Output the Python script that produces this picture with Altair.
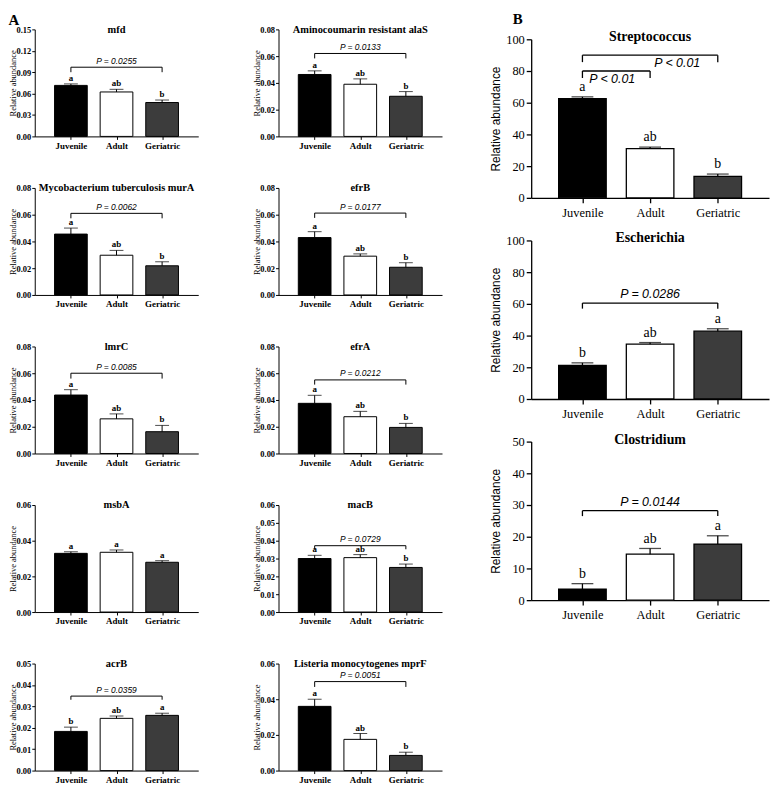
import altair as alt
import pandas as pd

groups = ["Juvenile", "Adult", "Geriatric"]
bar_colors = ["#000000", "#ffffff", "#3c3c3c"]

# ---------------- Panel A (ARGs) ----------------
a_titles = ["mfd", "Aminocoumarin resistant alaS", "Mycobacterium tuberculosis murA", "efrB",
            "lmrC", "efrA", "msbA", "macB", "acrB", "Listeria monocytogenes mprF"]
a_means = [
    [0.0715, 0.0623, 0.0475],
    [0.0463, 0.039, 0.030],
    [0.0455, 0.0297, 0.0218],
    [0.0429, 0.029, 0.0207],
    [0.0437, 0.0259, 0.0163],
    [0.0375, 0.0275, 0.0195],
    [0.0329, 0.0335, 0.0279],
    [0.030, 0.0305, 0.025],
    [0.0183, 0.0244, 0.0258],
    [0.036, 0.0175, 0.0085],
]
a_upper = [
    [0.0736, 0.066, 0.051],
    [0.049, 0.043, 0.0335],
    [0.050, 0.0333, 0.0248],
    [0.0473, 0.0307, 0.0241],
    [0.0477, 0.0296, 0.021],
    [0.0435, 0.0315, 0.0225],
    [0.0338, 0.0348, 0.0288],
    [0.0318, 0.0322, 0.0269],
    [0.0203, 0.0255, 0.0268],
    [0.040, 0.0208, 0.0103],
]
a_letters = [
    ["a", "ab", "b"], ["a", "ab", "b"], ["a", "ab", "b"], ["a", "ab", "b"], ["a", "ab", "b"],
    ["a", "ab", "b"], ["a", "a", "a"], ["a", "ab", "b"], ["b", "ab", "a"], ["a", "ab", "b"],
]
a_ymax = [0.15, 0.08, 0.08, 0.08, 0.08, 0.08, 0.06, 0.06, 0.05, 0.06]
a_ystep = [0.03, 0.02, 0.02, 0.02, 0.02, 0.02, 0.02, 0.01, 0.01, 0.02]
a_ptext = ["P = 0.0255", "P = 0.0133", "P = 0.0062", "P = 0.0177", "P = 0.0085",
           "P = 0.0212", "", "P = 0.0729", "P = 0.0359", "P = 0.0051"]
a_bracket = [0.097, 0.062, 0.061, 0.0612, 0.060, 0.055, None, 0.0372, 0.0348, 0.0499]
a_bracket_end = [0.090, 0.0583, 0.0573, 0.0576, 0.056, 0.0515, None, 0.0352, 0.0331, 0.0469]

# ---------------- Panel B (genera) ----------------
b_titles = ["Streptococcus", "Escherichia", "Clostridium"]
b_means = [[62.5, 31.0, 13.5], [21.2, 34.6, 42.8], [3.5, 14.5, 17.7]]
b_upper = [[63.7, 32.0, 15.0], [22.8, 35.6, 44.3], [5.2, 16.3, 20.3]]
b_letters = [["a", "ab", "b"], ["b", "ab", "a"], ["b", "ab", "a"]]
b_ymax = [100, 100, 50]
b_ystep = [20, 20, 10]
# brackets: (from idx, to idx, line y, end y, text, text idx, text below line?)
b_brackets = [
    [(0, 2, 90.0, 85.6, "P < 0.01", 1.40, True), (0, 1, 80.0, 75.6, "P < 0.01", 0.44, True)],
    [(0, 2, 60.5, 57.0, "P = 0.0286", 1.0, False)],
    [(0, 2, 28.2, 26.5, "P = 0.0144", 1.0, False)],
]

SERIF = "Liberation Serif"
SANS = "Liberation Sans"

STYLE_A = dict(w=165, h=108, bw=33, cap=14, tick=3, lab_fs=8.5, lab_w="bold", lab_pad=1,
               xlab_fs=9, xlab_w="bold", xlab_pad=2, ytitle_fs=8.5, ytitle_font=SERIF, ext=17,
               tpad=0, title_fs=10.5, title_off=-10, let_fs=9, let_w="bold", let_dy=1,
               p_fs=8.5, p_dy=1.5, fmt=".2f", sw=1)
STYLE_B = dict(w=240, h=160, bw=48, cap=22, tick=5, lab_fs=12.5, lab_w="normal", lab_pad=2,
               xlab_fs=12.5, xlab_w="normal", xlab_pad=4, ytitle_fs=12, ytitle_font=SANS,
               ext=26, tpad=3, title_fs=14, title_off=-11, let_fs=14, let_w="normal",
               let_dy=3, p_fs=12.5, p_dy=2, fmt="d", sw=1.3)

label_expr = "[" + ",".join("'" + g + "'" for g in groups) + "][datum.value]"


def make_panel(title, means, upper, letters, ymax, ystep, brackets, S):
    df = pd.DataFrame({"idx": [0, 1, 2], "group": groups, "mean": means,
                       "upper": upper, "letter": letters})
    xs = alt.Scale(domain=[-0.684, 2.684], nice=False, zero=False)
    ys = alt.Scale(domain=[0, ymax], nice=False, zero=True)
    nt = int(round(ymax / ystep))
    yvals = [round(i * ystep, 4) for i in range(nt + 1)]
    xaxis = alt.Axis(values=[0, 1, 2], labelExpr=label_expr, title=None, grid=False,
                     tickSize=S["tick"], labelFont=SERIF, labelFontSize=S["xlab_fs"],
                     labelFontWeight=S["xlab_w"], labelPadding=S["xlab_pad"], domainWidth=S["sw"],
                     tickWidth=S["sw"], labelColor="black", domainColor="black", tickColor="black")
    yaxis = alt.Axis(values=yvals, format=S["fmt"], title="Relative abundance", grid=False,
                     tickSize=S["tick"], labelFont=SERIF, labelFontSize=S["lab_fs"],
                     labelFontWeight=S["lab_w"], labelPadding=S["lab_pad"], minExtent=S["ext"],
                     maxExtent=S["ext"], titlePadding=S["tpad"], titleFont=S["ytitle_font"],
                     titleFontSize=S["ytitle_fs"], titleFontWeight="normal",
                     domainWidth=S["sw"], tickWidth=S["sw"], labelColor="black",
                     titleColor="black", domainColor="black", tickColor="black")

    def X(f):
        return alt.X(f, scale=xs, axis=xaxis, title=None)

    def Y(f):
        return alt.Y(f, scale=ys, axis=yaxis, title="Relative abundance")

    base = alt.Chart(df)
    bars = base.mark_bar(size=S["bw"], stroke="black", strokeWidth=S["sw"]).encode(
        x=X("idx:Q"), y=Y("mean:Q"),
        fill=alt.Fill("group:N", scale=alt.Scale(domain=groups, range=bar_colors), legend=None),
    )
    err = base.mark_rule(color="black", strokeWidth=S["sw"]).encode(
        x=X("idx:Q"), y=Y("mean:Q"), y2="upper:Q")
    cap = base.mark_tick(orient="horizontal", size=S["cap"], thickness=S["sw"], color="black").encode(
        x=X("idx:Q"), y=Y("upper:Q"))
    let = base.mark_text(baseline="bottom", dy=-S["let_dy"], font=SERIF, fontSize=S["let_fs"],
                         fontWeight=S["let_w"], color="black", fill="black").encode(
        x=X("idx:Q"), y=Y("upper:Q"), text="letter:N")
    layers = [bars, err, cap, let]
    if brackets:
        bdf = pd.DataFrame(brackets, columns=["x0", "x1", "y", "yend", "label", "tx", "below"])
        ends = pd.DataFrame({"x": list(bdf["x0"]) + list(bdf["x1"]),
                             "y": list(bdf["y"]) * 2, "yend": list(bdf["yend"]) * 2})
        layers.append(alt.Chart(bdf).mark_rule(color="black", strokeWidth=S["sw"]).encode(
            x=X("x0:Q"), x2="x1:Q", y=Y("y:Q")))
        layers.append(alt.Chart(ends).mark_rule(color="black", strokeWidth=S["sw"]).encode(
            x=X("x:Q"), y=Y("y:Q"), y2="yend:Q"))
        above = bdf[~bdf["below"]]
        below = bdf[bdf["below"]]
        if len(above):
            layers.append(alt.Chart(above).mark_text(baseline="bottom", dy=-S["p_dy"], font=SANS,
                                                     fontStyle="italic", fontSize=S["p_fs"],
                                                     color="black", fill="black").encode(
                x=X("tx:Q"), y=Y("y:Q"), text="label:N"))
        if len(below):
            layers.append(alt.Chart(below).mark_text(baseline="top", dy=S["p_dy"], font=SANS,
                                                     fontStyle="italic", fontSize=S["p_fs"],
                                                     color="black", fill="black").encode(
                x=X("tx:Q"), y=Y("y:Q"), text="label:N"))
    return alt.layer(*layers).properties(
        width=S["w"], height=S["h"],
        title=alt.TitleParams(title, font=SERIF, fontWeight="bold", fontSize=S["title_fs"],
                              offset=S["title_off"], anchor="middle", color="black"))


a_panels = []
for i in range(10):
    br = []
    if a_bracket[i] is not None:
        br = [(0, 2, a_bracket[i], a_bracket_end[i], a_ptext[i], 1.0, False)]
    a_panels.append(make_panel(a_titles[i], a_means[i], a_upper[i], a_letters[i],
                               a_ymax[i], a_ystep[i], br, STYLE_A))

b_panels = [make_panel(b_titles[i], b_means[i], b_upper[i], b_letters[i], b_ymax[i],
                       b_ystep[i], b_brackets[i], STYLE_B) for i in range(3)]

# invisible spacer that lowers panel B relative to panel A
spacer = alt.Chart(pd.DataFrame({"s": [""]})).mark_text(opacity=0, fontSize=1, baseline="top").encode(
    text="s:N", x=alt.value(0), y=alt.value(0)).properties(width=240, height=1)

col_left = alt.vconcat(*a_panels[0::2], spacing=52, bounds="flush")
col_right = alt.vconcat(*a_panels[1::2], spacing=52, bounds="flush")
col_b = alt.vconcat(spacer, alt.vconcat(*b_panels, spacing=43, bounds="flush"),
                    spacing=9, bounds="flush").properties(
    title=alt.TitleParams("B", anchor="start", font=SERIF, fontWeight="bold", fontSize=15,
                          offset=2, color="black", dx=24))
block_a = alt.hconcat(col_left, col_right, spacing=53).properties(
    title=alt.TitleParams("A", anchor="start", font=SERIF, fontWeight="bold", fontSize=15,
                          offset=-4, color="black"))

chart = alt.hconcat(block_a, col_b, spacing=46).properties(padding=0).configure_view(
    stroke="transparent")

chart.save("out.html", embed_options={"renderer": "svg", "actions": False})
